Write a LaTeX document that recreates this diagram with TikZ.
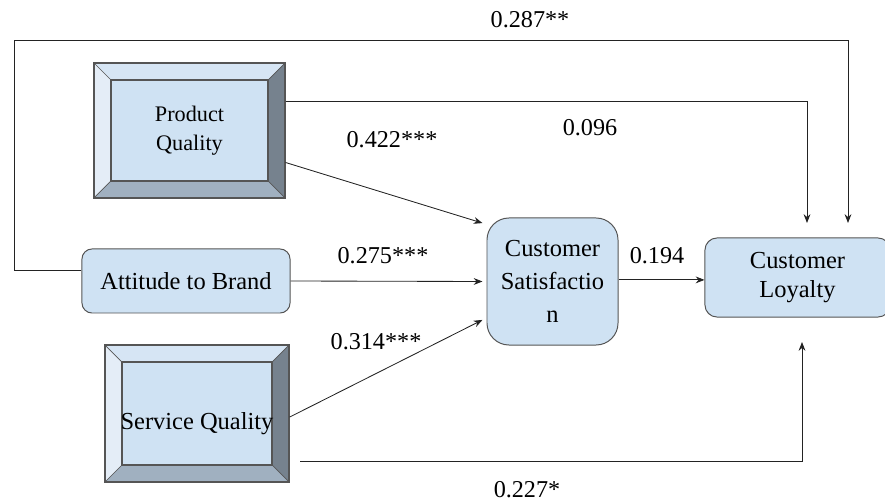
\documentclass[tikz,border=0pt]{standalone}
\usepackage{fontspec}
\setmainfont{Liberation Serif}
\usetikzlibrary{arrows.meta, positioning, calc}
\definecolor{cFace}{RGB}{207,226,243}
\definecolor{cLight}{RGB}{228,237,247}
\definecolor{cTop}{RGB}{214,229,244}
\definecolor{cDark}{RGB}{118,130,142}
\definecolor{cMid}{RGB}{160,176,192}
\definecolor{cEdge}{RGB}{85,85,85}
\definecolor{cLine}{RGB}{35,35,35}
\def\bw{0.425cm}
% bevel frame drawn inside the node path
\newcommand{\bevelframe}{%
	\coordinate (bnw) at (path picture bounding box.north west);
	\coordinate (bne) at (path picture bounding box.north east);
	\coordinate (bsw) at (path picture bounding box.south west);
	\coordinate (bse) at (path picture bounding box.south east);
	\coordinate (inw) at ([xshift=\bw,yshift=-\bw]bnw);
	\coordinate (ine) at ([xshift=-\bw,yshift=-\bw]bne);
	\coordinate (isw) at ([xshift=\bw,yshift=\bw]bsw);
	\coordinate (ise) at ([xshift=-\bw,yshift=\bw]bse);
	\fill[cTop] (bnw) -- (bne) -- (ine) -- (inw) -- cycle;
	\fill[cLight] (bnw) -- (inw) -- (isw) -- (bsw) -- cycle;
	\fill[cDark] (bne) -- (bse) -- (ise) -- (ine) -- cycle;
	\fill[cMid] (bsw) -- (isw) -- (ise) -- (bse) -- cycle;
	\draw[cEdge, line width=0.5pt] (bnw) -- (inw) (bne) -- (ine) (bsw) -- (isw) (bse) -- (ise);
	\draw[cEdge, line width=1pt] (inw) rectangle (ise);
}
\tikzset{
	bevelbox/.style={rectangle, draw=cEdge, line width=0.8pt, fill=cFace, inner sep=0pt, align=center, path picture={\bevelframe}},
	roundbox/.style={rectangle, draw=cEdge, line width=0.7pt, fill=cFace, inner sep=0pt, align=center, font=\fontsize{17.4}{20}\selectfont},
	link/.style={-{Stealth[length=2.2mm, width=1.7mm]}, draw=cLine, line width=0.6pt},
	coef/.style={inner sep=1pt, font=\fontsize{17.2}{20}\selectfont},
}

\begin{document}
\begin{tikzpicture}[x=0.025cm, y=-0.025cm]
	\useasboundingbox (0,0) rectangle (885,503);

	% constructs
	\node[bevelbox, minimum width=4.775cm, minimum height=3.375cm, font=\fontsize{15.8}{20.6}\selectfont] (pq) at (189.5,130.5) {Product\\Quality};
	\node[bevelbox, minimum width=4.6cm, minimum height=3.425cm, font=\fontsize{17.4}{20}\selectfont] (sq) at (197,413.5) {\raisebox{-0.25cm}[\height][\depth]{Service Quality}};
	\node[roundbox, rounded corners=0.25cm, minimum width=5.2cm, minimum height=1.6cm] (att) at (186,281) {Attitude to Brand};
	\node[roundbox, rounded corners=0.55cm, minimum width=3.275cm, minimum height=3.175cm, font=\fontsize{17.4}{23.5}\selectfont] (sat) at (552.5,281.5) {Customer\\Satisfactio\\n};
	\node[roundbox, rounded corners=0.3cm, minimum width=4.625cm, minimum height=1.975cm, font=\fontsize{17.4}{20.6}\selectfont] (loy) at (797.5,277.5) {Customer\\Loyalty};

	% free ends
	\coordinate (tl) at (14,40);
	\coordinate (t287) at (848,223);
	\coordinate (t096) at (807,223);
	\coordinate (s227) at (300,461);
	\coordinate (t227) at (802,342);

	% paths
	\draw[link] ([yshift=0.275cm]att.west) -| (tl) -| (t287);
	\draw[link] ([yshift=0.725cm]pq.east) -| (t096);
	\draw[link] ([yshift=-0.8cm]pq.east) -- ([xshift=-0.1cm,yshift=1.46cm]sat.west);
	\draw[link] (att.east) -- ([xshift=-0.1cm]sat.west);
	\draw[link] ([yshift=-0.09cm]sq.east) -- ([xshift=-0.1cm,yshift=-0.96cm]sat.west);
	\draw[link] (s227) -| (t227);
	\draw[link] ([yshift=0.04cm]sat.east) -- ([yshift=0.04cm]sat.east -| loy.west);

	% coefficients
	\node[coef] (c287) at (530,20) {0.287**};
	\node[coef] (c096) at (590,128) {0.096};
	\node[coef] (c422) at (392,140) {0.422***};
	\node[coef] (c275) at (383,256) {0.275***};
	\node[coef] (c314) at (376,342) {0.314***};
	\node[coef] (c194) at (657,256) {0.194};
	\node[coef] (c227) at (527,490) {0.227*};
\end{tikzpicture}
\end{document}
